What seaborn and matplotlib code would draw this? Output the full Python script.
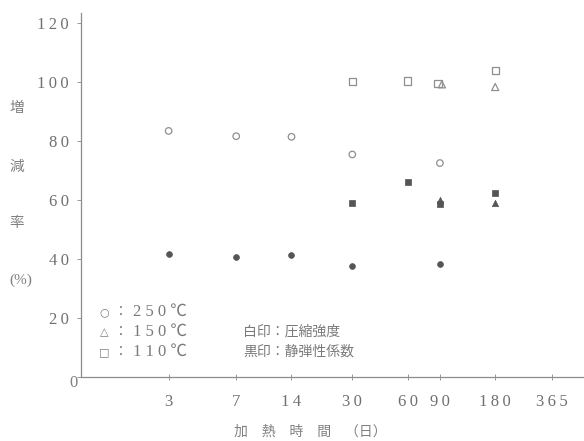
import matplotlib
matplotlib.use("Agg")
import matplotlib.pyplot as plt
import seaborn as sns
import pandas as pd
import numpy as np

# ---- data ----
days_250 = [3, 7, 14, 30, 90]
comp_250 = [83.5, 81.7, 81.5, 75.5, 72.6]
elas_250 = [41.9, 40.6, 41.4, 37.6, 38.5]

days_150 = [90, 180]
comp_150 = [99.3, 98.4]
elas_150 = [60.2, 58.9]

days_110 = [30, 60, 90, 180]
comp_110 = [100.3, 100.4, 99.5, 104.1]
elas_110 = [58.9, 66.2, 58.6, 62.3]

x_ticks = [3, 7, 14, 30, 60, 90, 180, 365]
y_ticks = [0, 20, 40, 60, 80, 100, 120]

sns.set_theme(style="white")
plt.rcParams['font.family'] = ['Liberation Serif', 'Noto Sans CJK JP', 'DejaVu Sans']

rows = []
for d, v in zip(days_250, comp_250):
    rows.append((d, v, "250", "comp"))
for d, v in zip(days_250, elas_250):
    rows.append((d, v, "250", "elas"))
for d, v in zip(days_150, comp_150):
    rows.append((d, v, "150", "comp"))
for d, v in zip(days_150, elas_150):
    rows.append((d, v, "150", "elas"))
for d, v in zip(days_110, comp_110):
    rows.append((d, v, "110", "comp"))
for d, v in zip(days_110, elas_110):
    rows.append((d, v, "110", "elas"))
df = pd.DataFrame(rows, columns=["day", "value", "temp", "kind"])

markers = {"250": "o", "150": "^", "110": "s"}
sizes = {"250": 22, "150": 26, "110": 28}
# small horizontal dodge for overlapping open markers at 90 days (display only)
dodge = {("150", "comp"): 1.025, ("110", "comp"): 0.975}

fig = plt.figure(figsize=(5.84, 4.41), dpi=100)
ax = fig.add_axes([0.1387, 0.1451, 0.8593, 0.8254])

open_col = "#8f8f8f"
fill_col = "#555555"
for (t, k), g in df.groupby(["temp", "kind"]):
    xs = g["day"].to_numpy(dtype=float)
    f = dodge.get((t, k), 1.0)
    xs = np.where(xs == 90, xs * f, xs)
    sub = pd.DataFrame({"day": xs, "value": g["value"].to_numpy()})
    if k == "comp":
        sns.scatterplot(data=sub, x="day", y="value", ax=ax, marker=markers[t],
                        s=sizes[t], facecolor="none", edgecolor=open_col, linewidth=0.9)
    else:
        sns.scatterplot(data=sub, x="day", y="value", ax=ax, marker=markers[t],
                        s=sizes[t] * 0.8, color=fill_col, edgecolor=fill_col, linewidth=0.5)

def spaced(v):
    return "\u2009".join(list(str(v)))

ax.set_xscale("log")
ax.set_xlim(1.0, 540)
ax.set_ylim(0, 123.5)
ax.set_xticks(x_ticks)
ax.set_xticklabels([spaced(v) for v in x_ticks])
ax.xaxis.set_minor_locator(matplotlib.ticker.NullLocator())
ax.set_yticks(y_ticks)
ax.set_yticklabels(["" if v == 0 else spaced(v) for v in y_ticks])
ax.set_xlabel("")
ax.set_ylabel("")

for s in ["top", "right"]:
    ax.spines[s].set_visible(False)
for s in ["left", "bottom"]:
    ax.spines[s].set_color("#8c8c8c")
    ax.spines[s].set_linewidth(0.9)

ax.tick_params(axis="y", direction="out", length=3, width=0.7, color="#999999",
               labelsize=12, labelcolor="#707070", pad=6, left=True)
ax.tick_params(axis="x", direction="inout", length=4, width=0.7, color="#999999",
               labelsize=12, labelcolor="#707070", pad=10, bottom=True)

# "0" at origin
fig.text(73 / 584, 1 - 383 / 441, "0", ha="center", va="center", fontsize=12, color="#808080")

# y label stacked
ylab_col = "#808080"
cjk = ['Noto Sans CJK JP', 'DejaVu Sans']
for ch, ypx in [("増", 108), ("減", 167), ("率", 223)]:
    fig.text(17 / 584, 1 - ypx / 441, ch, ha="center", va="center", fontsize=10.5,
             color=ylab_col, family=cjk)
fig.text(21 / 584, 1 - 280 / 441, "(%)", ha="center", va="center", fontsize=11,
         color=ylab_col, family=['Liberation Serif', 'Noto Sans CJK JP'])

# x label
fig.text(310 / 584, 1 - 432 / 441, "加　熱　時　間　（日）", ha="center", va="center",
         fontsize=10, color=ylab_col, family=cjk)

# in-plot legend text
leg_col = "#7a7a7a"
mix = ['Liberation Serif', 'Noto Sans CJK JP', 'DejaVu Sans']
for sym, lab, ypx in [("○", "250℃", 312), ("△", "150℃", 332), ("□", "110℃", 352)]:
    fig.text(104 / 584, 1 - ypx / 441, sym, ha="center", va="center", fontsize=8,
             color=leg_col, family=['DejaVu Sans'])
    fig.text(113 / 584, 1 - ypx / 441, "：", ha="left", va="center", fontsize=10,
             color=leg_col, family=cjk)
    fig.text(133 / 584, 1 - ypx / 441, " ".join(list(lab[:3])) + " " + lab[3], ha="left",
             va="center", fontsize=12, color=leg_col, family=mix)
fig.text(243 / 584, 1 - 332 / 441, "白印：圧縮強度", ha="left", va="center", fontsize=10,
         color=leg_col, family=cjk)
fig.text(243 / 584, 1 - 352 / 441, "黒印：静弾性係数", ha="left", va="center", fontsize=10,
         color=leg_col, family=cjk)

fig.savefig("out.png", dpi=100)
